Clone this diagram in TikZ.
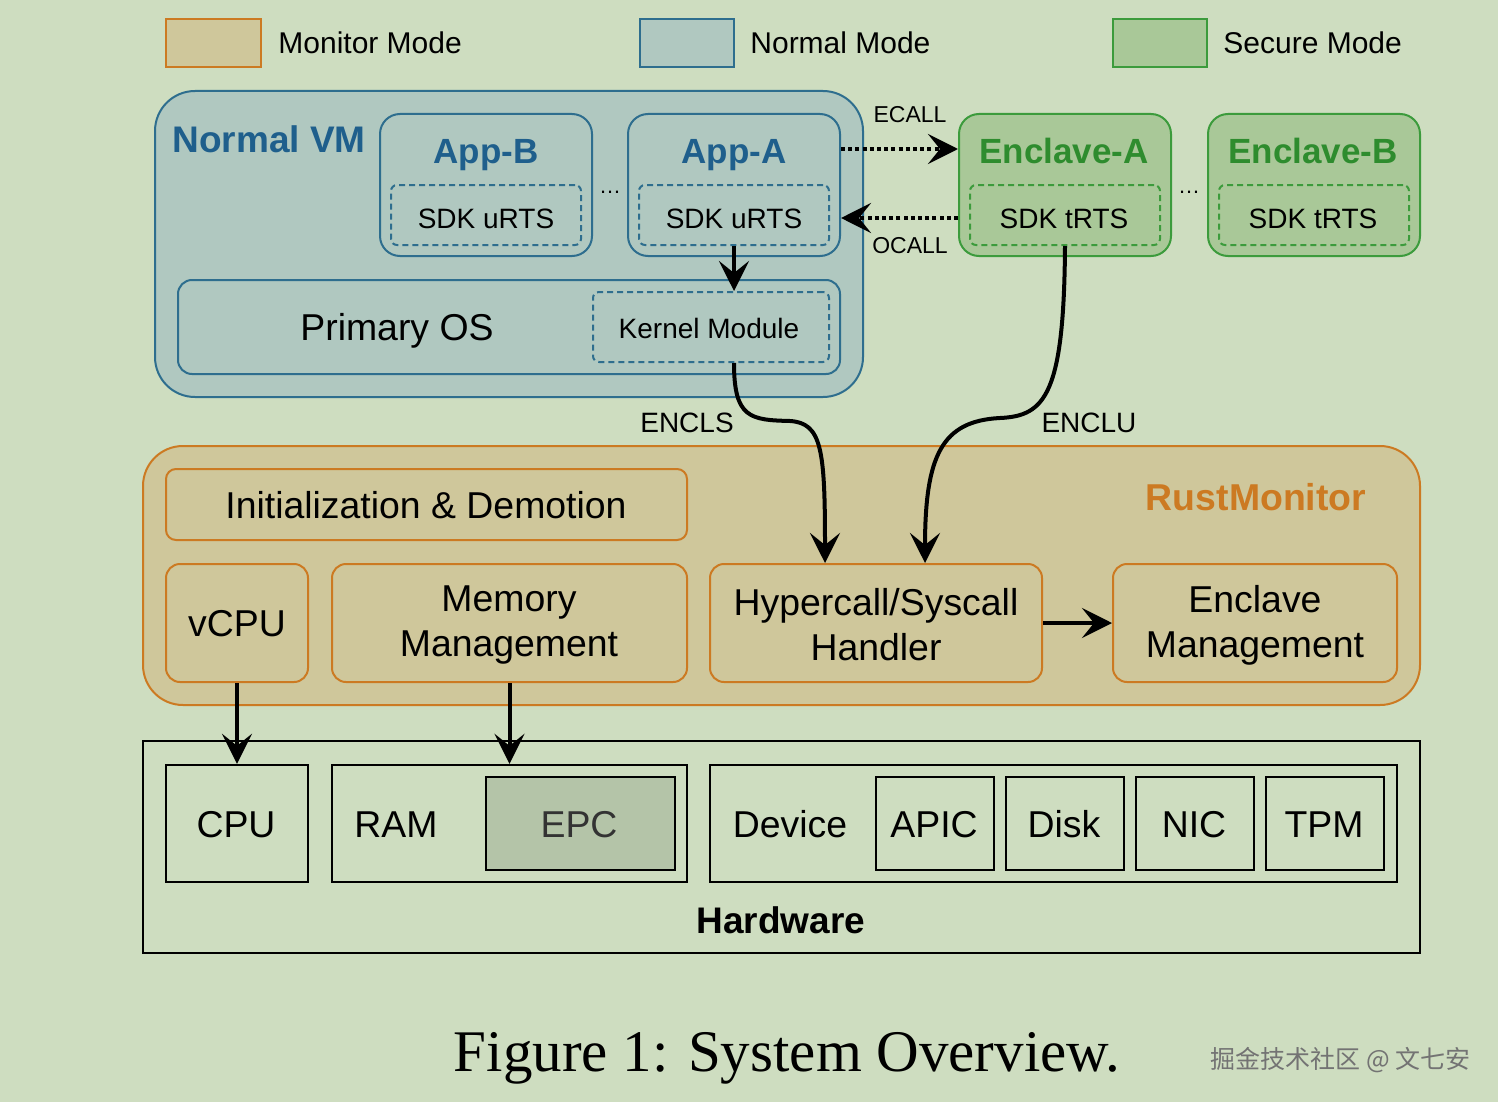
\documentclass[tikz,border=0pt]{standalone}
\usepackage{fontspec}
\setmainfont{Liberation Sans}
\newfontfamily\capfont{Liberation Serif}
\newfontfamily\cjkfont{Noto Sans CJK SC}
\usetikzlibrary{arrows.meta,fit,calc}
\definecolor{bgc}{RGB}{206,221,192}
\definecolor{monF}{RGB}{207,199,155}
\definecolor{monB}{RGB}{204,122,34}
\definecolor{normF}{RGB}{176,200,192}
\definecolor{normB}{RGB}{46,110,142}
\definecolor{normT}{RGB}{31,95,140}
\definecolor{secF}{RGB}{169,200,152}
\definecolor{secB}{RGB}{60,155,60}
\definecolor{secT}{RGB}{46,140,46}
\definecolor{epcF}{RGB}{180,196,168}
\tikzset{
  fitbox/.style={inner sep=0pt, line width=1pt},
  monbox/.style={fitbox, draw=monB, fill=monF, rounded corners=7pt},
  normbox/.style={fitbox, draw=normB, fill=normF, rounded corners=10pt},
  secbox/.style={fitbox, draw=secB, fill=secF, rounded corners=10pt},
  ndash/.style={fitbox, draw=normB, dash pattern=on 3pt off 2pt, rounded corners=3pt},
  sdash/.style={fitbox, draw=secB, dash pattern=on 3pt off 2pt, rounded corners=3pt},
  hwbox/.style={fitbox, draw=black, line width=1.2pt},
  bigtxt/.style={font=\fontsize{18.7pt}{22.5pt}\selectfont, align=center, inner sep=0pt},
  bigbase/.style={font=\fontsize{18.7pt}{22.5pt}\selectfont, inner sep=0pt, anchor=base},
  midbase/.style={font=\fontsize{14pt}{16pt}\selectfont, inner sep=0pt, anchor=base},
  legtxt/.style={font=\fontsize{15pt}{18pt}\selectfont, anchor=base west, inner sep=0pt},
  smalltxt/.style={font=\fontsize{11.5pt}{13pt}\selectfont, inner sep=0pt, anchor=base},
  boldtitle/.style={font=\bfseries\fontsize{17.5pt}{20pt}\selectfont, inner sep=0pt, anchor=base},
  tip/.style={-{Stealth[length=15pt,width=15pt,inset=6pt]}},
  arr/.style={line width=2pt, tip},
  dotarr/.style={line width=2.2pt, dash pattern=on 2pt off 1.6pt, tip},
}
\begin{document}
\begin{tikzpicture}[x=0.5pt,y=-0.5pt]
\useasboundingbox (0,0) rectangle (1498,1102);
\fill[bgc] (0,0) rectangle (1498,1102);

% legend
\node[monbox, rounded corners=0pt, fit={(166,19)(261,67)}] (legM) {};
\node[legtxt] (legMt) at (278,54) {Monitor Mode};
\node[normbox, rounded corners=0pt, fit={(640,19)(734,67)}] (legN) {};
\node[legtxt] (legNt) at (750,54) {Normal Mode};
\node[secbox, rounded corners=0pt, fit={(1113,19)(1207,67)}] (legS) {};
\node[legtxt] (legSt) at (1223,54) {Secure Mode};

% Normal VM
\node[normbox, rounded corners=20pt, fit={(155,91)(863,397)}] (vm) {};
\node[boldtitle, font=\bfseries\fontsize{18.5pt}{20pt}\selectfont, text=normT, anchor=base west] (vmt) at (172,153) {Normal VM};

\node[normbox, fit={(380,114)(592,256)}] (appB) {};
\node[boldtitle, text=normT] (appBt) at (486,163) {App-B};
\node[ndash, fit={(391,185)(581,245)}] (appBs) {};
\node[midbase] (appBst) at (486,228) {SDK uRTS};

\node[normbox, fit={(628,114)(840,256)}] (appA) {};
\node[boldtitle, text=normT] (appAt) at (734,163) {App-A};
\node[ndash, fit={(639,185)(829,245)}] (appAs) {};
\node[midbase] (appAst) at (734,228) {SDK uRTS};

\node[inner sep=0pt, font=\fontsize{11pt}{12pt}\selectfont] (dots1) at (610,192) {\dots};

\node[normbox, rounded corners=7pt, fit={(178,280)(840,374)}] (pos) {};
\node[bigbase] (post) at (397,340) {Primary OS};
\node[ndash, fit={(593,292)(829,362)}] (km) {};
\node[midbase] (kmt) at (709,338) {Kernel Module};

% Enclaves
\node[secbox, fit={(959,114)(1171,256)}] (encA) {};
\node[boldtitle, text=secT] (encAt) at (1064,163) {Enclave-A};
\node[sdash, fit={(970,185)(1160,245)}] (encAs) {};
\node[midbase] (encAst) at (1064,228) {SDK tRTS};

\node[secbox, fit={(1208,114)(1420,256)}] (encB) {};
\node[boldtitle, text=secT] (encBt) at (1313,163) {Enclave-B};
\node[sdash, fit={(1219,185)(1409,245)}] (encBs) {};
\node[midbase] (encBst) at (1313,228) {SDK tRTS};

\node[inner sep=0pt, font=\fontsize{11pt}{12pt}\selectfont] (dots2) at (1189,192) {\dots};

% ECALL / OCALL
\coordinate (ecy) at (0,149);
\coordinate (ocy) at (0,218);
\draw[dotarr] (appA.east |- ecy) -- (encA.west |- ecy);
\node[smalltxt] (ecall) at (910,122) {ECALL};
\draw[dotarr] (encA.west |- ocy) -- (appA.east |- ocy);
\node[smalltxt] (ocall) at (910,253) {OCALL};

\draw[arr] (appAs.south) -- (appAs.south |- km.north);

% RustMonitor
\node[monbox, rounded corners=20pt, fit={(143,446)(1420,705)}] (rm) {};
\node[boldtitle, font=\bfseries\fontsize{18.7pt}{20pt}\selectfont, text=monB] (rmt) at (1256,510) {RustMonitor};
\node[monbox, rounded corners=5pt, fit={(166,469)(687,540)}] (init) {};
\node[bigbase] (initt) at (426,518) {Initialization \& Demotion};
\node[monbox, fit={(166,564)(308,682)}] (vcpu) {};
\node[bigbase] (vcput) at (237,636) {vCPU};
\node[monbox, fit={(332,564)(687,682)}] (mem) {};
\node[bigtxt] (memt) at (509,625) {Memory\\Management};
\node[monbox, fit={(710,564)(1042,682)}] (hyp) {};
\node[bigtxt] (hypt) at (876,625) {Hypercall/Syscall\\Handler};
\node[monbox, fit={(1113,564)(1397,682)}] (emg) {};
\node[bigtxt] (emgt) at (1255,625) {Enclave\\Management};

\draw[arr] (hyp.east) -- (emg.west);

% Hardware
\node[hwbox, fit={(143,741)(1420,953)}] (hw) {};
\node[font=\bfseries\fontsize{18.5pt}{20pt}\selectfont, inner sep=0pt, anchor=base] (hwt) at (781,933) {Hardware};
\node[hwbox, fit={(166,765)(308,882)}] (cpu) {};
\node[bigbase] (cput) at (236,837) {CPU};
\node[hwbox, fit={(332,765)(687,882)}] (ram) {};
\node[bigbase] (ramt) at (396,837) {RAM};
\node[hwbox, fill=epcF, fit={(486,777)(675,870)}] (epc) {};
\node[bigbase, text=black!80] (epct) at (579,837) {EPC};
\node[hwbox, fit={(710,765)(1397,882)}] (dev) {};
\node[bigbase] (devt) at (790,837) {Device};
\node[hwbox, fit={(876,777)(994,870)}] (apic) {};
\node[bigbase] (apict) at (934,837) {APIC};
\node[hwbox, fit={(1006,777)(1124,870)}] (disk) {};
\node[bigbase] (diskt) at (1064,837) {Disk};
\node[hwbox, fit={(1136,777)(1254,870)}] (nic) {};
\node[bigbase] (nict) at (1194,837) {NIC};
\node[hwbox, fit={(1266,777)(1384,870)}] (tpm) {};
\node[bigbase] (tpmt) at (1324,837) {TPM};

\draw[arr] (vcpu.south) -- (cpu.north);
\draw[arr] (mem.south) -- (ram.north);

% ENCLS / ENCLU
\draw[arr] (km.south -| appAs.south) .. controls (734,418) and (750,420) .. (790,421)
  .. controls (822,423) and (825,450) .. ([xshift=-25.5pt]hyp.north);
\node[midbase] (encls) at (687,432) {ENCLS};
\draw[arr] (encAs.south) .. controls (1064,395) and (1045,416) .. (1000,418)
  .. controls (942,421) and (925,455) .. ([xshift=24.5pt]hyp.north);
\node[midbase] (enclu) at (1089,432) {ENCLU};

% caption
\node[font=\capfont\fontsize{29.5pt}{34pt}\selectfont, inner sep=0pt, anchor=base] (cap) at (787,1071) {Figure 1: System Overview.};
\node[font=\cjkfont\fontsize{12.5pt}{14pt}\selectfont, text=black!55, anchor=base west, inner sep=0pt] (wm) at (1210,1068) {掘金技术社区 @ 文七安};
\end{tikzpicture}
\end{document}
